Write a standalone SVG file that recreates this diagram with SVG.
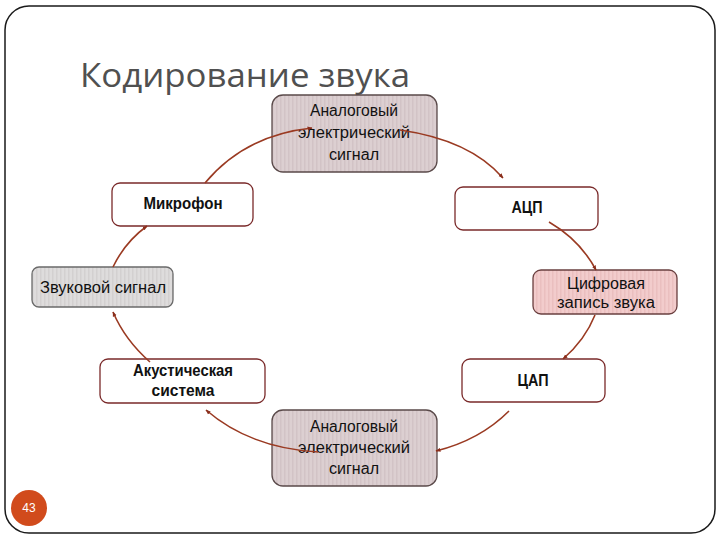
<svg xmlns="http://www.w3.org/2000/svg" width="720" height="540" viewBox="0 0 720 540">
<defs>
<pattern id="stripeA" width="4" height="10" patternUnits="userSpaceOnUse">
<rect width="4" height="10" fill="#dccfd1"/>
<rect width="1.5" height="10" fill="#d2c3c6"/>
</pattern>
<pattern id="stripeG" width="4" height="10" patternUnits="userSpaceOnUse">
<rect width="4" height="10" fill="#dedcdc"/>
<rect width="1.5" height="10" fill="#d3d0d0"/>
</pattern>
<pattern id="stripeP" width="4" height="10" patternUnits="userSpaceOnUse">
<rect width="4" height="10" fill="#f2cccc"/>
<rect width="1.5" height="10" fill="#eabfbf"/>
</pattern>
<marker id="arr" viewBox="0 0 10 10" refX="9" refY="5" markerWidth="5" markerHeight="5" orient="auto" markerUnits="userSpaceOnUse">
<path d="M0,1 L10,5 L0,9 z" fill="#8a2e1c"/>
</marker>
</defs>
<style>
.frame{fill:#ffffff;stroke:#1a1a1a;stroke-width:1.5}
.title{font-family:"Open Sans","Liberation Sans",sans-serif;font-size:33px;fill:#505050}
.box{stroke-width:1.3}
.gray{fill:url(#stripeA);stroke:#5a4a4a}
.sound{fill:url(#stripeG);stroke:#6a6a6a}
.pink{fill:url(#stripeP);stroke:#6a4040}
.white{fill:#ffffff;stroke:#7a2a2a}
.t{font-family:"Liberation Sans Narrow","Liberation Sans",sans-serif;font-size:16px;fill:#111111;text-anchor:middle}
.b{font-weight:bold}
.conn{fill:none;stroke:#9a3a22;stroke-width:1.6;marker-end:url(#arr)}
.num{font-family:"Liberation Sans",sans-serif;font-size:12px;fill:#ffffff;text-anchor:middle}
</style>
<rect class="frame" x="5" y="6" width="710" height="527" rx="24"/>
<text class="title" x="80" y="87" textLength="330" lengthAdjust="spacingAndGlyphs">Кодирование звука</text>

<g id="node-analog-top">
<rect class="box gray" x="272" y="95" width="165" height="77" rx="11"/>
<text class="t" x="354" y="116" textLength="88" lengthAdjust="spacingAndGlyphs">Аналоговый</text>
<text class="t" x="354" y="138" textLength="112" lengthAdjust="spacingAndGlyphs">электрический</text>
<text class="t" x="354" y="160" textLength="50" lengthAdjust="spacingAndGlyphs">сигнал</text>
</g>

<g id="node-microphone">
<rect class="box white" x="112" y="183" width="141" height="43" rx="8"/>
<text class="t b" x="183" y="209" textLength="79" lengthAdjust="spacingAndGlyphs">Микрофон</text>
</g>

<g id="node-adc">
<rect class="box white" x="455" y="187" width="143" height="43" rx="8"/>
<text class="t b" x="527" y="213" textLength="31" lengthAdjust="spacingAndGlyphs">АЦП</text>
</g>

<g id="node-sound">
<rect class="box sound" x="32" y="267" width="141" height="40" rx="7"/>
<text class="t" x="103" y="293" textLength="126" lengthAdjust="spacingAndGlyphs">Звуковой сигнал</text>
</g>

<g id="node-digital">
<rect class="box pink" x="533" y="270" width="144" height="44" rx="8"/>
<text class="t" x="606" y="289" textLength="78" lengthAdjust="spacingAndGlyphs">Цифровая</text>
<text class="t" x="606" y="308" textLength="98" lengthAdjust="spacingAndGlyphs">запись звука</text>
</g>

<g id="node-speakers">
<rect class="box white" x="100" y="359" width="165" height="44" rx="8"/>
<text class="t b" x="183" y="376" textLength="100" lengthAdjust="spacingAndGlyphs">Акустическая</text>
<text class="t b" x="183" y="396" textLength="63" lengthAdjust="spacingAndGlyphs">система</text>
</g>

<g id="node-dac">
<rect class="box white" x="462" y="359" width="143" height="43" rx="8"/>
<text class="t b" x="533" y="386" textLength="31" lengthAdjust="spacingAndGlyphs">ЦАП</text>
</g>

<g id="node-analog-bottom">
<rect class="box gray" x="272" y="410" width="165" height="76" rx="11"/>
<text class="t" x="354" y="432" textLength="88" lengthAdjust="spacingAndGlyphs">Аналоговый</text>
<text class="t" x="354" y="453" textLength="112" lengthAdjust="spacingAndGlyphs">электрический</text>
<text class="t" x="354" y="474" textLength="50" lengthAdjust="spacingAndGlyphs">сигнал</text>
</g>

<g id="connectors">
<path class="conn" d="M205,183 Q245,135 312,128"/>
<path class="conn" d="M400,130 Q470,140 503,178"/>
<path class="conn" d="M549,222 Q580,240 596,270"/>
<path class="conn" d="M595,315 Q585,340 563,359"/>
<path class="conn" d="M509,411 Q480,440 436,451"/>
<path class="conn" d="M318,452 Q250,448 206,410"/>
<path class="conn" d="M150,362 Q125,340 113,312"/>
<path class="conn" d="M113,267 Q125,242 147,226"/>
</g>

<g id="page-number">
<circle cx="29" cy="508" r="18" fill="#d14b1c"/>
<text class="num" x="29" y="512">43</text>
</g>
</svg>
